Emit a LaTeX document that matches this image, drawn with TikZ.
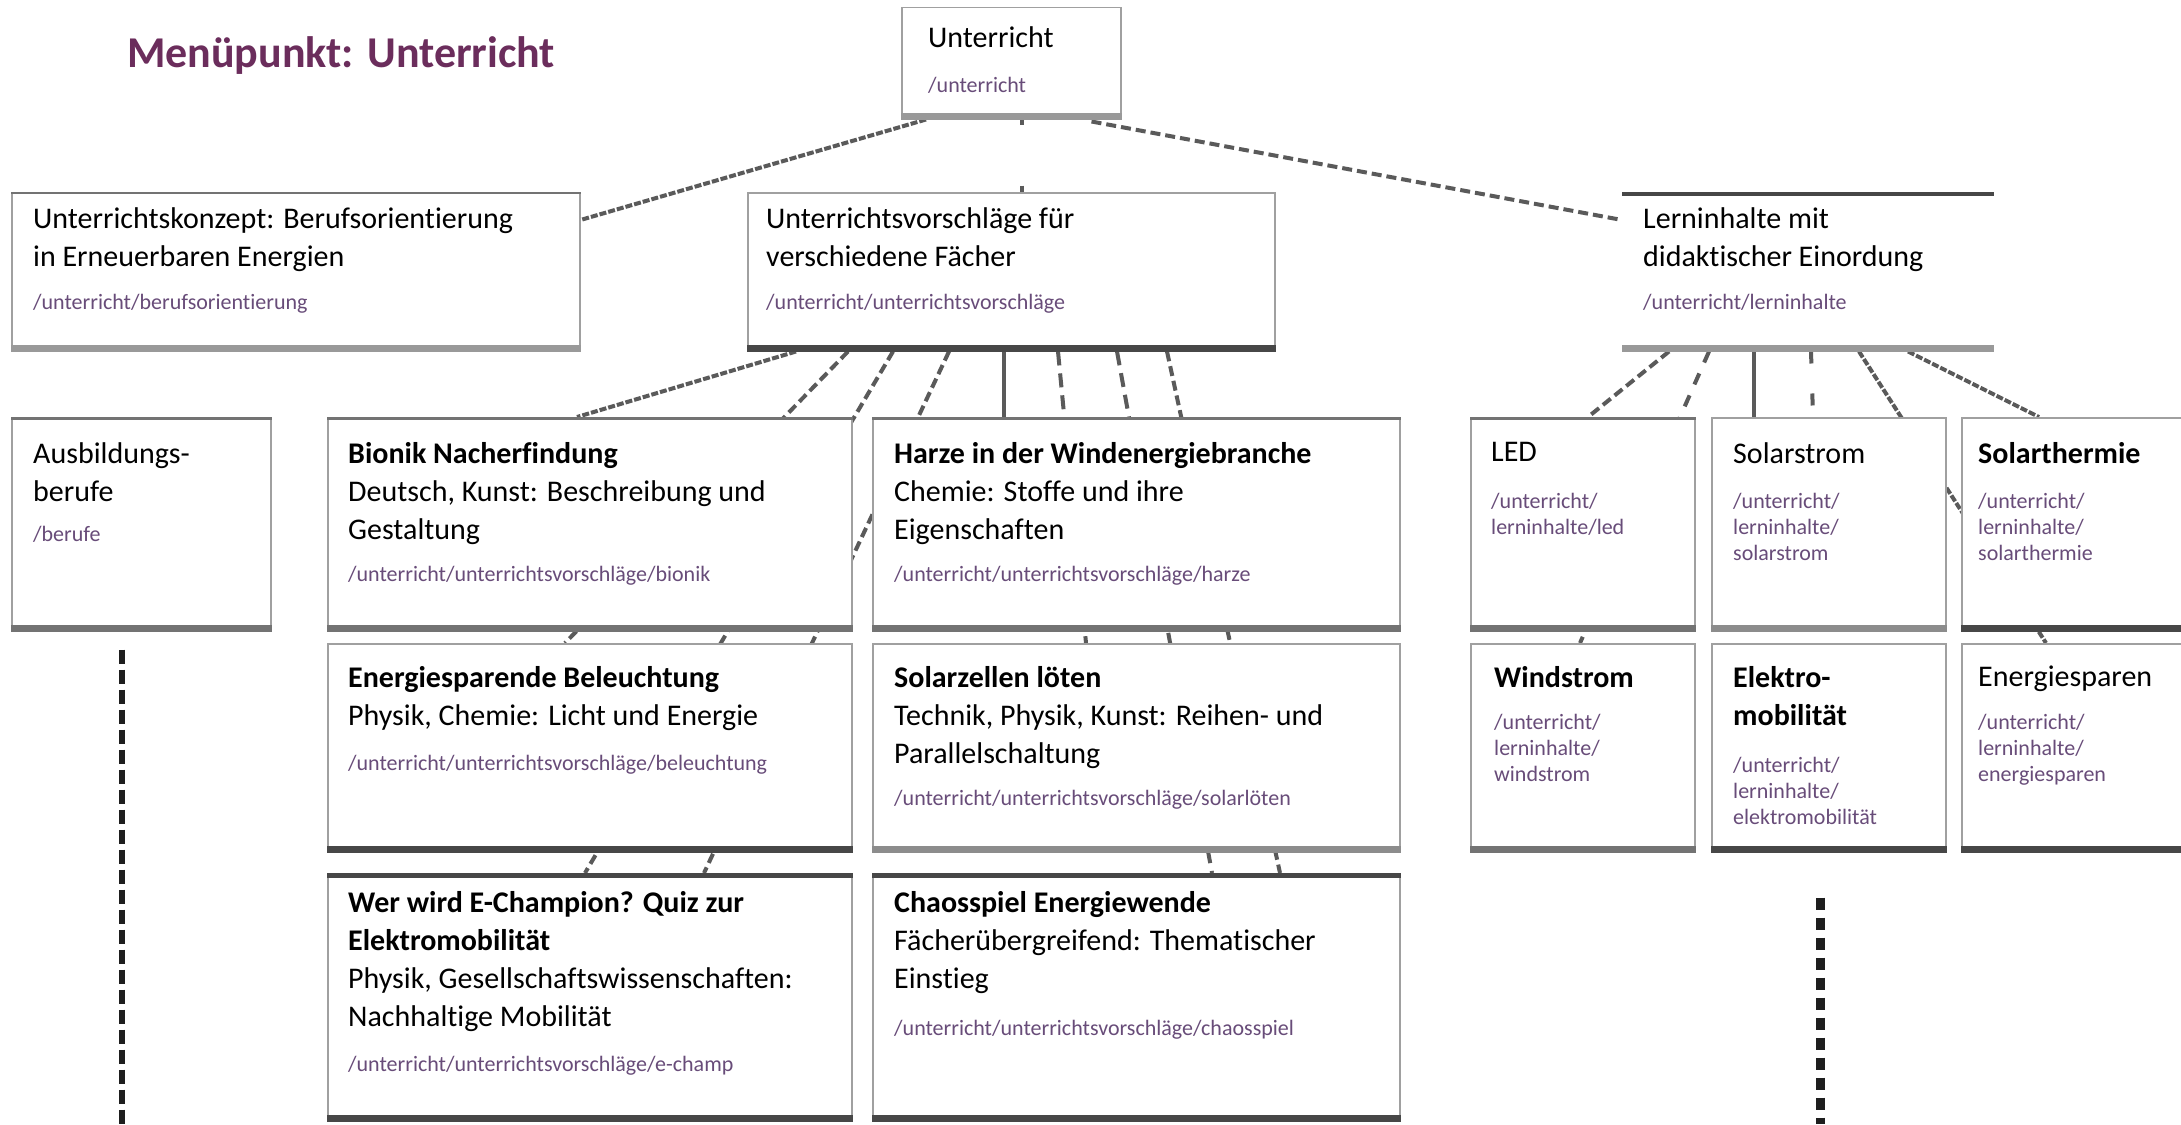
\documentclass[tikz,border=0pt]{standalone}
\usepackage{fontspec}
\setmainfont{Carlito}[Ligatures=NoCommon]
\usetikzlibrary{calc}
\definecolor{titlecol}{HTML}{6B2D5C}
\definecolor{pathcol}{HTML}{684C79}
\definecolor{cgray}{HTML}{5A5A5A}
\definecolor{edgecol}{HTML}{A0A0A0}
\definecolor{barlight}{HTML}{999999}
\definecolor{barmid}{HTML}{737373}
\definecolor{barmid2}{HTML}{8C8C8C}
\definecolor{bardark}{HTML}{474747}
\definecolor{vline}{HTML}{1E1E1E}
\pgfdeclarelayer{pagefill}
\pgfdeclarelayer{background}
\pgfsetlayers{pagefill,background,main}
\newcommand{\boxbar}[2]{\draw[line width=7pt,#2] ([yshift=3.5pt]#1.south west) -- ([yshift=3.5pt]#1.south east);}
\newcommand{\boxtop}[3]{\draw[line width=#3,#2] ([yshift=-#3/2]#1.north west) -- ([yshift=-#3/2]#1.north east);}
\begin{document}
\begin{tikzpicture}[x=1pt,y=-1pt,
  box/.style={draw=edgecol, line width=1.5pt, fill=white, inner sep=0pt, anchor=north west},
  txt/.style={anchor=north west, inner sep=0pt, align=left, font=\fontsize{30}{38}\selectfont},
  pth/.style={anchor=north west, inner sep=0pt, align=left, text=pathcol, font=\fontsize{22}{26}\selectfont},
  conn/.style={draw=cgray, line width=4pt},
  dd/.style={conn, dash pattern=on 7pt off 2pt},
  ds/.style={conn, dash pattern=on 10pt off 5pt},
  dl/.style={conn, dash pattern=on 14pt off 8pt},
  sl/.style={conn, line width=3.5pt}
]
\useasboundingbox (0,0) rectangle (2181,1124);
\begin{pgfonlayer}{pagefill}
\fill[white] (0,0) rectangle (2181,1124);
\end{pgfonlayer}

% title
\node[font=\fontsize{44}{50}\selectfont\bfseries, text=titlecol, inner sep=0pt] (title) at (341,56) {Menüpunkt: Unterricht};

% ---------- boxes ----------
\node[box, minimum width=219pt, minimum height=111pt] (unt) at (901,7) {};
\node[box, minimum width=568pt, minimum height=158pt] (konz) at (11,192) {};
\node[box, minimum width=527pt, minimum height=158pt] (vor) at (747,192) {};
\node[box, draw=none, minimum width=370pt, minimum height=158pt] (lern) at (1622,192) {};

\node[box, minimum width=259pt, minimum height=213pt] (ausb) at (11,417) {};
\node[box, minimum width=524pt, minimum height=213pt] (bion) at (327,417) {};
\node[box, minimum width=527pt, minimum height=213pt] (harz) at (872,417) {};
\node[box, minimum width=224pt, minimum height=213pt] (led) at (1470,417) {};
\node[box, minimum width=234pt, minimum height=213pt] (sstr) at (1711,417) {};
\node[box, minimum width=230pt, minimum height=213pt] (sthe) at (1961,417) {};

\node[box, minimum width=524pt, minimum height=208pt] (ener) at (327,643) {};
\node[box, minimum width=527pt, minimum height=208pt] (szel) at (872,643) {};
\node[box, minimum width=224pt, minimum height=208pt] (wind) at (1470,643) {};
\node[box, minimum width=234pt, minimum height=208pt] (elek) at (1711,643) {};
\node[box, minimum width=230pt, minimum height=208pt] (espa) at (1961,643) {};

\node[box, minimum width=524pt, minimum height=247pt] (quiz) at (327,873) {};
\node[box, minimum width=527pt, minimum height=247pt] (chaos) at (872,873) {};

% bars
\boxbar{unt}{barlight}
\boxbar{konz}{barlight}
\boxbar{vor}{bardark}
\boxbar{lern}{barlight}
\boxbar{ausb}{barmid}
\boxbar{bion}{barmid}
\boxbar{harz}{barmid}
\boxbar{led}{barmid}
\boxbar{sstr}{barmid2}
\boxbar{sthe}{bardark}
\boxbar{ener}{bardark}
\boxbar{szel}{barmid2}
\boxbar{wind}{barmid}
\boxbar{elek}{bardark}
\boxbar{espa}{bardark}
\boxbar{quiz}{bardark}
\boxbar{chaos}{bardark}
\boxtop{lern}{bardark}{4pt}
\boxtop{konz}{barmid}{2pt}
\boxtop{ausb}{barmid}{3pt}
\boxtop{bion}{barmid}{3pt}
\boxtop{harz}{barmid}{3pt}
\boxtop{led}{barmid}{3pt}
\boxtop{quiz}{bardark}{5pt}
\boxtop{chaos}{bardark}{5pt}

% ---------- texts ----------
\node[txt] (untT) at (928,26) {Unterricht};
\node[pth] (untP) at (928,77) {/unterricht};

\node[txt] (konzT) at (33,207) {Unterrichtskonzept: Berufsorientierung\\in Erneuerbaren Energien};
\node[pth] (konzP) at (33,294) {/unterricht/berufsorientierung};

\node[txt] (vorT) at (766,207) {Unterrichtsvorschläge für\\verschiedene Fächer};
\node[pth] (vorP) at (766,294) {/unterricht/unterrichtsvorschläge};

\node[txt] (lernT) at (1643,207) {Lerninhalte mit\\didaktischer Einordung};
\node[pth] (lernP) at (1643,294) {/unterricht/lerninhalte};

\node[txt] (ausbT) at (33,442) {Ausbildungs-\\berufe};
\node[pth] (ausbP) at (33,526) {/berufe};

\node[txt] (bionT) at (348,442) {{\bfseries Bionik Nacherfindung}\\Deutsch, Kunst: Beschreibung und\\Gestaltung};
\node[pth] (bionP) at (348,566) {/unterricht/unterrichtsvorschläge/bionik};

\node[txt] (harzT) at (894,442) {{\bfseries Harze in der Windenergiebranche}\\Chemie: Stoffe und ihre\\Eigenschaften};
\node[pth] (harzP) at (894,566) {/unterricht/unterrichtsvorschläge/harze};

\node[txt] (ledT) at (1491,442) {LED};
\node[pth] (ledP) at (1491,493) {/unterricht/\\lerninhalte/led};

\node[txt] (sstrT) at (1733,442) {Solarstrom};
\node[pth] (sstrP) at (1733,493) {/unterricht/\\lerninhalte/\\solarstrom};

\node[txt] (stheT) at (1978,442) {\bfseries Solarthermie};
\node[pth] (stheP) at (1978,493) {/unterricht/\\lerninhalte/\\solarthermie};

\node[txt] (enerT) at (348,666) {{\bfseries Energiesparende Beleuchtung}\\Physik, Chemie: Licht und Energie};
\node[pth] (enerP) at (348,755) {/unterricht/unterrichtsvorschläge/beleuchtung};

\node[txt] (szelT) at (894,666) {{\bfseries Solarzellen löten}\\Technik, Physik, Kunst: Reihen- und\\Parallelschaltung};
\node[pth] (szelP) at (894,790) {/unterricht/unterrichtsvorschläge/solarlöten};

\node[txt] (windT) at (1494,666) {\bfseries Windstrom};
\node[pth] (windP) at (1494,714) {/unterricht/\\lerninhalte/\\windstrom};

\node[txt] (elekT) at (1733,666) {{\bfseries Elektro-}\\{\bfseries mobilität}};
\node[pth] (elekP) at (1733,757) {/unterricht/\\lerninhalte/\\elektromobilität};

\node[txt] (espaT) at (1978,666) {Energiesparen};
\node[pth] (espaP) at (1978,714) {/unterricht/\\lerninhalte/\\energiesparen};

\node[txt] (quizT) at (348,891) {{\bfseries Wer wird E-Champion? Quiz zur}\\{\bfseries Elektromobilität}\\Physik, Gesellschaftswissenschaften:\\Nachhaltige Mobilität};
\node[pth] (quizP) at (348,1056) {/unterricht/unterrichtsvorschläge/e-champ};

\node[txt] (chaosT) at (894,891) {{\bfseries Chaosspiel Energiewende}\\Fächerübergreifend: Thematischer\\Einstieg};
\node[pth] (chaosP) at (894,1020) {/unterricht/unterrichtsvorschläge/chaosspiel};

% free ends of the two vertical lines
\coordinate (endA) at (122,1124);
\coordinate (endB) at (1820,1124);

% ---------- connectors (behind boxes) ----------
\begin{pgfonlayer}{background}
\draw[dd] ([xshift=25pt]unt.south west) -- ([yshift=-28pt]konz.north east);
\draw[conn, dash pattern=on 5pt off 61pt on 9pt off 100pt] ([xshift=121pt]unt.south west) -- ([xshift=275pt]vor.north west);
\draw[ds] ([xshift=-30pt,yshift=-2pt]unt.south east) -- ([yshift=-28pt]lern.north west);

\draw[dd] ([xshift=49pt]vor.south west) -- ([xshift=250pt]bion.north west);
\draw[ds] ([xshift=101pt]vor.south west) -- ([xshift=238pt]ener.north west);
\draw[ds] ([xshift=146pt]vor.south west) -- ([xshift=258pt]quiz.north west);
\draw[ds] ([xshift=202pt]vor.south west) -- ([xshift=377pt]quiz.north west);
\draw[sl] ([xshift=257pt]vor.south west) -- ([xshift=132pt]harz.north west);
\draw[dl] ([xshift=311pt]vor.south west) -- ([xshift=214pt]szel.north west);
\draw[dl] ([xshift=370pt]vor.south west) -- ([xshift=340pt]chaos.north west);
\draw[ds] ([xshift=420pt]vor.south west) -- ([xshift=408pt]chaos.north west);

\draw[ds] ([xshift=47pt]lern.south west) -- ([xshift=118pt]led.north west);
\draw[conn, dash pattern=on 12pt off 12pt] ([xshift=87pt]lern.south west) -- ([xshift=110pt]wind.north west);
\draw[sl] ([xshift=132pt]lern.south west) -- ([xshift=43pt]sstr.north west);
\draw[conn, dash pattern=on 12pt off 30pt] ([xshift=189pt]lern.south west) -- ([xshift=109pt]elek.north west);
\draw[dd] ([xshift=237pt]lern.south west) -- ([xshift=85pt]espa.north west);
\draw[dd] ([xshift=286pt]lern.south west) -- ([xshift=78pt]sthe.north west);

\draw[draw=vline, line width=6pt, dash pattern=on 14pt off 6pt] ([xshift=111pt,yshift=-18pt]ausb.south west) -- (endA);
\draw[draw=vline, line width=9pt, dash pattern=on 12pt off 8pt] ([xshift=109pt,yshift=-45pt]elek.south west) -- (endB);
\end{pgfonlayer}
\end{tikzpicture}
\end{document}
